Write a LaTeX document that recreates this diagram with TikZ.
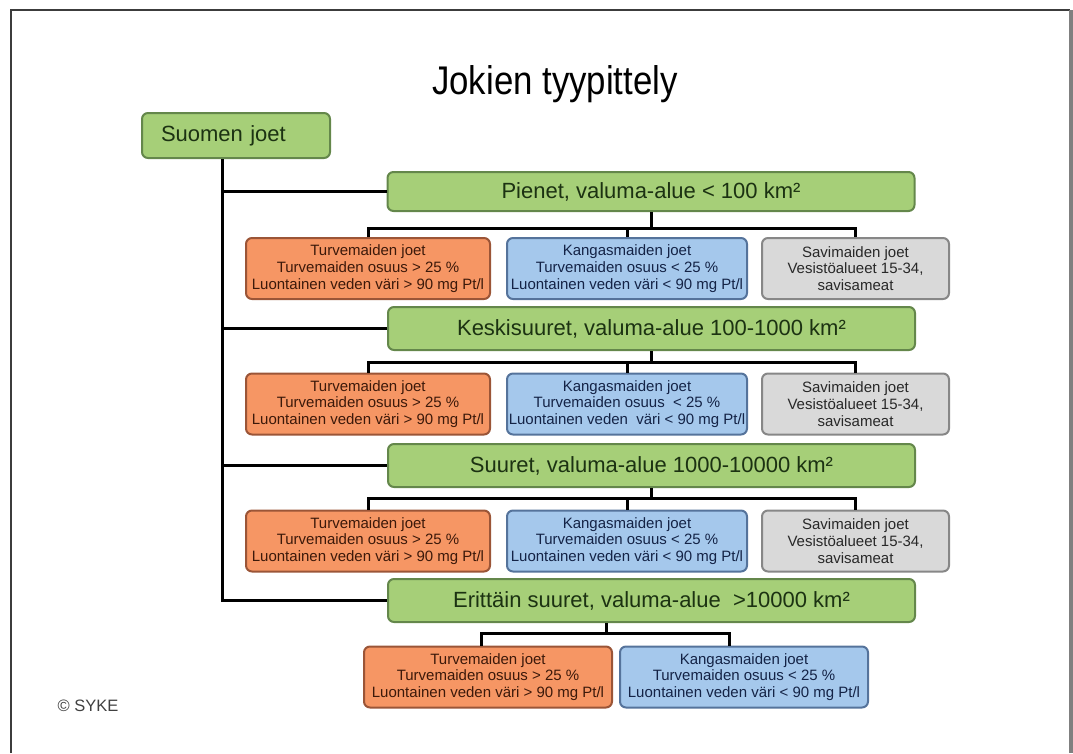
\documentclass[tikz,border=0pt]{standalone}
\usepackage{fontspec}
\setmainfont{Liberation Sans}
\newfontfamily\titlefont[FakeStretch=0.87]{Liberation Sans}
\definecolor{gfill}{RGB}{166,207,120}
\definecolor{gdraw}{RGB}{100,135,75}
\definecolor{gtext}{RGB}{28,50,18}
\definecolor{ofill}{RGB}{246,150,100}
\definecolor{odraw}{RGB}{155,85,55}
\definecolor{otext}{RGB}{60,25,10}
\definecolor{bfill}{RGB}{165,200,236}
\definecolor{bdraw}{RGB}{85,115,155}
\definecolor{btext}{RGB}{20,35,70}
\definecolor{sfill}{RGB}{217,217,217}
\definecolor{sdraw}{RGB}{135,135,135}
\definecolor{stext}{RGB}{40,40,40}
\definecolor{framec}{RGB}{60,60,60}
\begin{document}
\begin{tikzpicture}[x=1pt,y=-1pt,
  box/.style={rounded corners=6pt, line width=2pt, inner sep=0pt, align=center},
  rootbox/.style={box, fill=gfill, draw=gdraw, text=gtext, minimum width=188pt, minimum height=45pt, text width=150pt, align=left, font=\fontsize{22}{26}\selectfont},
  levelbox/.style={box, fill=gfill, draw=gdraw, text=gtext, minimum width=527pt, minimum height=43pt, font=\fontsize{22}{26}\selectfont},
  childbox/.style={box, minimum height=61pt, font=\fontsize{15}{16.7}\selectfont},
  peat/.style={childbox, fill=ofill, draw=odraw, text=otext, minimum width=244pt},
  heath/.style={childbox, fill=bfill, draw=bdraw, text=btext, minimum width=240pt},
  clay/.style={childbox, fill=sfill, draw=sdraw, text=stext, minimum width=187pt},
  conn/.style={line width=3pt, black}
]
\useasboundingbox (0,0) rectangle (1073,753);
% frame
\draw[framec, line width=2pt] (11,753) -- (11,10) -- (1070,10);
\draw[gray, line width=4pt] (1070.5,10) -- (1070.5,753);

\node[font=\titlefont\fontsize{40}{44}\selectfont, text=black] (title) at (555,84) {Jokien tyypittely};
\node[font=\fontsize{16.5}{19}\selectfont, text=black!75] (syke) at (88,706) {© SYKE};

\node[rootbox] (root) at (236,135.5) {Suomen joet};

\node[levelbox, minimum height=39pt] (L1) at (651,191.5) {Pienet, valuma-alue < 100 km²};
\node[levelbox] (L2) at (651.5,328.5) {Keskisuuret, valuma-alue 100-1000 km²};
\node[levelbox] (L3) at (651.5,465.5) {Suuret, valuma-alue 1000-10000 km²};
\node[levelbox] (L4) at (651.5,600.5) {Erittäin suuret, valuma-alue \ >10000 km²};

\node[peat]  (o1) at (368,268.5) {Turvemaiden joet\\Turvemaiden osuus > 25 \%\\Luontainen veden väri > 90 mg Pt/l};
\node[heath] (b1) at (627,268.5) {Kangasmaiden joet\\Turvemaiden osuus < 25 \%\\Luontainen veden väri < 90 mg Pt/l};
\node[clay]  (s1) at (855.5,268.5) {Savimaiden joet\\Vesistöalueet 15-34,\\savisameat};

\node[peat]  (o2) at (368,404) {Turvemaiden joet\\Turvemaiden osuus > 25 \%\\Luontainen veden väri > 90 mg Pt/l};
\node[heath] (b2) at (627,404) {Kangasmaiden joet\\Turvemaiden osuus \ < 25 \%\\Luontainen veden \ väri < 90 mg Pt/l};
\node[clay]  (s2) at (855.5,404) {Savimaiden joet\\Vesistöalueet 15-34,\\savisameat};

\node[peat]  (o3) at (368,541) {Turvemaiden joet\\Turvemaiden osuus > 25 \%\\Luontainen veden väri > 90 mg Pt/l};
\node[heath] (b3) at (627,541) {Kangasmaiden joet\\Turvemaiden osuus < 25 \%\\Luontainen veden väri < 90 mg Pt/l};
\node[clay]  (s3) at (855.5,541) {Savimaiden joet\\Vesistöalueet 15-34,\\savisameat};

\node[peat, minimum width=248pt]  (o4) at (488,677) {Turvemaiden joet\\Turvemaiden osuus > 25 \%\\Luontainen veden väri > 90 mg Pt/l};
\node[heath, minimum width=248pt] (b4) at (744,677) {Kangasmaiden joet\\Turvemaiden osuus < 25 \%\\Luontainen veden väri < 90 mg Pt/l};

% trunk and branches
\coordinate (tx) at (222,0);
\draw[conn] (root.south -| tx) -- (L4.west -| tx) -- (L4.west);
\draw[conn] (L1.west -| tx) -- (L1.west);
\draw[conn] (L2.west -| tx) -- (L2.west);
\draw[conn] (L3.west -| tx) -- (L3.west);

% row bars
\coordinate (bar1) at (0,228);
\coordinate (bar2) at (0,362);
\coordinate (bar3) at (0,498);
\coordinate (bar4) at (0,633);
\coordinate (st4) at (606,0);
\coordinate (v4a) at (481,0);
\coordinate (v4b) at (729,0);

\draw[conn] (o1.north) -- (o1.north |- bar1) -- (s1.north |- bar1) -- (s1.north);
\draw[conn] (b1.north) -- (b1.north |- bar1);
\draw[conn] (L1.south) -- (L1.south |- bar1);

\draw[conn] (o2.north) -- (o2.north |- bar2) -- (s2.north |- bar2) -- (s2.north);
\draw[conn] (b2.north) -- (b2.north |- bar2);
\draw[conn] (L2.south) -- (L2.south |- bar2);

\draw[conn] (o3.north) -- (o3.north |- bar3) -- (s3.north |- bar3) -- (s3.north);
\draw[conn] (b3.north) -- (b3.north |- bar3);
\draw[conn] (L3.south) -- (L3.south |- bar3);

\draw[conn] (o4.north -| v4a) -- (v4a |- bar4) -- (v4b |- bar4) -- (b4.north -| v4b);
\draw[conn] (L4.south -| st4) -- (st4 |- bar4);
\end{tikzpicture}
\end{document}
